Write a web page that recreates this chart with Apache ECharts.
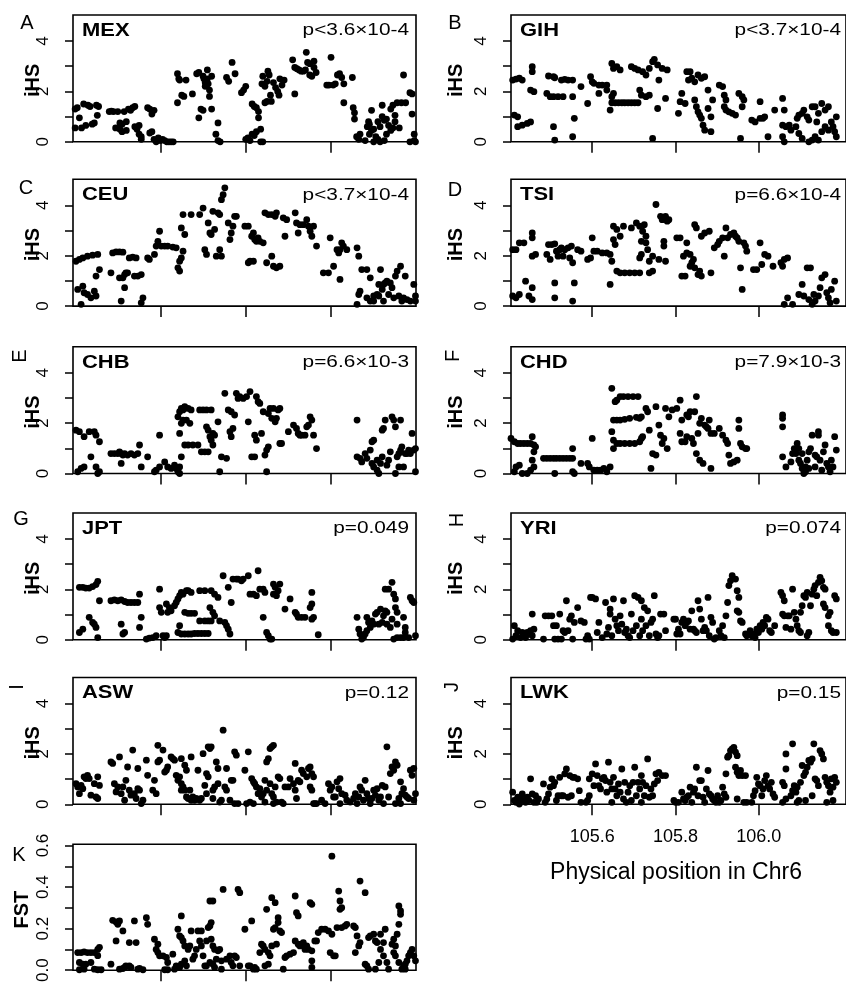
<!DOCTYPE html>
<html><head><meta charset="utf-8">
<script src="https://cdn.jsdelivr.net/npm/echarts@6/dist/echarts.min.js"></script>
<style>html,body{margin:0;padding:0;background:#fff}#c{width:846px;height:985px}</style>
</head><body><div id="c"></div>
<script>
// ---------- tick values ----------
const xTicks = [105.6, 105.8, 106.0];
const iHSTicks = [0, 1, 2, 3, 4];
const iHSLabels = [0, 2, 4];
const fstTicks = [0, 0.1, 0.2, 0.3, 0.4, 0.5, 0.6];
const fstLabels = [0, 0.2, 0.4, 0.6];

// ---------- panel labels ----------
const panelLetters = ['A','B','C','D','E','F','G','H','I','J','K'];
const populations = ['MEX','GIH','CEU','TSI','CHB','CHD','JPT','YRI','ASW','LWK',''];
const pValues = ['p<3.6×10-4','p<3.7×10-4','p<3.7×10-4','p=6.6×10-4','p=6.6×10-3','p=7.9×10-3','p=0.049','p=0.074','p=0.12','p=0.15',''];
const yNames = ['iHS','iHS','iHS','iHS','iHS','iHS','iHS','iHS','iHS','iHS','FST'];
const xTitle = 'Physical position in Chr6';

// ---------- data: [position (Mb), value] ----------
const MEX = [[105.40,1.3],[105.40,0.55],[105.405,1.35],[105.41,0.95],[105.415,0.55],[105.42,1.5],[105.425,0.65],[105.43,1.45],[105.435,1.4],[105.44,0.7],[105.445,0.75],[105.45,1.45],[105.452,1.05],[105.455,1.4],
[105.48,1.2],[105.485,1.22],[105.49,1.2],[105.495,0.55],[105.50,1.2],[105.505,0.5],[105.505,0.75],[105.51,0.4],[105.51,0.7],[105.515,1.2],[105.52,0.8],[105.52,0.45],[105.525,1.3],[105.53,1.25],[105.535,1.35],[105.54,1.4],[105.54,0.6],[105.545,0.5],[105.55,0.65],[105.55,0.3],[105.555,0.1],[105.555,0.2],
[105.57,1.35],[105.575,1.3],[105.58,1.1],[105.585,1.25],[105.575,0.35],[105.58,0.4],[105.585,0.1],[105.59,0.0],[105.595,0.15],[105.6,0.05],[105.605,0.1],[105.61,0.05],[105.615,0.0],[105.62,0.0],[105.625,0.0],[105.63,0.0],
[105.64,2.7],[105.643,2.5],[105.645,2.45],[105.64,1.55],[105.65,1.85],[105.655,1.8],[105.66,2.45],
[105.675,1.9],[105.685,2.7],[105.69,2.75],[105.69,0.95],[105.695,1.3],[105.70,2.6],[105.70,1.25],[105.702,2.5],[105.705,2.2],[105.705,2.35],[105.71,2.85],[105.71,2.5],[105.712,2.3],[105.715,1.8],[105.715,2.05],[105.72,2.6],[105.72,1.3],
[105.73,0.3],[105.735,0.75],[105.735,0.05],[105.74,0.0],
[105.755,2.55],[105.76,2.4],[105.768,3.15],[105.775,2.7],
[105.79,1.95],[105.795,2.05],[105.80,2.2],[105.80,0.1],[105.805,0.15],[105.81,0.05],[105.815,1.5],[105.815,0.3],[105.82,1.4],[105.82,0.25],[105.825,1.35],[105.825,0.4],[105.83,1.2],[105.83,0.95],[105.835,0.5],[105.835,0.0],[105.838,2.3],[105.84,2.6],[105.84,0.0],[105.845,2.2],[105.845,1.55],[105.85,2.4],[105.85,1.6],[105.852,2.8],[105.855,2.65],[105.858,1.85],[105.86,1.6],[105.865,2.35],[105.87,2.15],[105.875,2.0],[105.878,1.85],[105.88,2.5],[105.885,2.25],[105.89,2.45],
[105.91,3.25],[105.915,2.95],[105.915,1.9],[105.92,2.9],[105.925,2.85],[105.93,2.8],[105.935,2.8],[105.94,2.85],[105.942,3.55],[105.945,3.15],[105.95,2.65],[105.95,3.1],[105.955,2.6],[105.96,2.95],[105.96,3.2],[105.965,2.75],
[105.99,2.25],[105.995,2.25],[106.0,3.35],[106.005,2.25],[106.01,2.3],[106.015,2.65],[106.02,2.7],[106.025,2.55],[106.03,2.3],[106.03,1.55],
[106.05,2.55],[106.052,1.35],[106.055,1.15],[106.055,0.9],[106.06,0.2],[106.065,0.1],[106.068,0.3],
[106.08,0.05],[106.085,0.6],[106.088,0.8],[106.09,0.7],[106.09,0.3],[106.095,0.45],[106.095,1.25],[106.10,0.0],[106.10,0.5],[106.105,0.2],[106.11,0.1],[106.11,0.8],[106.115,0.6],[106.115,0.0],[106.12,1.45],[106.12,1.0],[106.125,0.05],[106.125,0.85],[106.13,0.9],[106.13,0.3],[106.135,0.65],[106.14,1.3],[106.14,0.45],[106.145,1.45],[106.145,0.55],[106.15,0.8],[106.15,1.05],[106.155,1.55],[106.16,0.55],[106.165,1.55],[106.17,2.65],[106.175,1.55],[106.185,1.95],[106.19,1.9],[106.19,1.1],[106.195,0.3],[106.195,0.05],[106.198,0.0],[106.185,0.0]];

const GIH = [[105.409,2.45],[105.417,2.49],[105.425,2.52],[105.432,2.45],[105.413,1.06],[105.421,0.99],[105.421,0.6],[105.432,0.66],[105.444,0.73],[105.452,0.79],[105.456,2.78],[105.456,2.98],[105.452,2.05],[105.460,1.99],
[105.491,1.92],[105.495,2.61],[105.507,2.58],[105.510,2.54],[105.499,1.79],[105.507,1.79],[105.518,1.79],[105.530,1.79],[105.507,0.6],[105.510,0.07],[105.526,2.45],[105.534,2.48],[105.542,2.45],[105.553,2.45],[105.553,0.2],[105.557,0.93],[105.553,1.79],
[105.573,2.19],[105.589,1.52],[105.596,2.58],[105.600,2.38],[105.604,2.32],[105.616,2.25],[105.624,2.25],[105.635,2.25],[105.616,1.92],[105.635,2.05],[105.643,1.26],
[105.647,3.11],[105.651,2.91],[105.659,2.98],[105.667,2.85],[105.694,2.98],[105.702,2.91],[105.710,2.85],[105.721,2.78],[105.729,2.65],[105.737,2.91],[105.745,3.18],[105.749,3.27],[105.757,3.05],[105.760,2.45],[105.768,2.91],[105.780,2.85],
[105.647,1.55],[105.655,1.55],[105.663,1.55],[105.671,1.55],[105.678,1.55],[105.686,1.55],[105.694,1.55],[105.702,1.55],[105.710,1.55],
[105.647,1.79],[105.651,1.92],[105.714,2.05],[105.718,1.85],[105.729,1.79],[105.737,1.85],[105.745,0.13],[105.757,1.32],[105.776,1.72],
[105.807,1.13],[105.811,1.59],[105.815,1.92],[105.823,1.52],[105.827,2.78],[105.835,2.78],[105.839,2.52],[105.846,2.38],[105.831,2.45],[105.854,2.65],[105.862,2.52],[105.870,2.58],[105.846,1.66],[105.850,1.39],[105.854,1.19],[105.858,1.06],[105.862,0.93],[105.866,0.66],[105.870,0.46],[105.885,0.4],[105.878,2.05],[105.878,1.32],[105.889,1.66],[105.885,0.99],
[105.905,2.25],[105.913,2.19],[105.917,1.85],[105.921,1.66],[105.917,1.39],[105.921,1.26],[105.928,1.19],[105.936,1.13],[105.944,1.06],[105.952,1.92],[105.960,1.79],[105.964,1.66],[105.960,1.39],[105.956,0.13],[105.983,0.86],[105.991,0.79],[106.003,0.93],[106.014,0.99],[106.010,0.93],[106.003,1.59],[106.022,0.2],[106.038,1.26],
[106.057,1.72],[106.061,1.26],[106.057,0.66],[106.065,0.6],[106.073,0.66],[106.077,0.46],[106.089,0.6],[106.092,0.93],[106.096,1.06],[106.104,1.13],[106.108,1.26],[106.116,0.99],[106.120,0.86],[106.128,1.39],[106.135,1.39],[106.139,0.79],[106.143,1.13],[106.151,1.52],[106.159,1.26],[106.167,1.39],[106.174,0.79],[106.178,0.6],[106.186,0.99],[106.057,0.2],[106.061,0.0],[106.096,0.33],[106.104,0.13],[106.120,0.0],[106.128,0.07],[106.135,0.2],[106.143,0.07],[106.151,0.4],[106.159,0.6],[106.167,0.46],[106.182,0.4],[106.186,0.2]];

const CEU = [[105.402,1.78],[105.410,1.85],[105.418,1.91],[105.429,1.98],[105.441,2.02],[105.453,2.05],[105.406,0.66],[105.418,0.79],[105.414,0.07],[105.421,0.53],[105.429,0.46],[105.437,0.33],[105.449,0.4],[105.445,0.59],[105.449,1.19],[105.457,1.45],
[105.484,1.32],[105.488,2.11],[105.496,2.15],[105.504,2.15],[105.512,2.14],[105.508,0.2],[105.504,1.12],[105.512,1.12],[105.516,1.25],[105.519,1.32],[105.523,1.32],[105.516,0.73],[105.527,1.91],[105.535,1.94],[105.543,1.91],[105.539,1.19],[105.547,1.19],[105.555,1.25],[105.559,0.33],[105.555,0.13],
[105.570,1.91],[105.574,1.85],[105.586,2.05],[105.590,2.38],[105.594,2.57],[105.598,2.97],[105.602,2.38],[105.610,2.38],[105.617,2.38],[105.629,2.34],[105.637,2.31],[105.645,1.78],[105.641,1.52],[105.645,1.39],[105.649,1.91],[105.653,2.18],[105.649,3.1],[105.657,2.84],[105.653,3.63],
[105.672,3.63],[105.692,3.63],[105.700,3.89],[105.704,2.24],[105.708,2.05],[105.712,3.3],[105.716,2.9],[105.719,2.84],[105.723,3.76],[105.727,3.04],[105.731,1.98],[105.735,3.7],[105.739,2.24],[105.739,3.63],[105.743,1.98],[105.743,4.22],[105.751,4.69],[105.747,4.42],[105.759,3.3],[105.763,2.64],[105.766,2.9],[105.770,3.17],[105.774,3.56],[105.778,3.56],
[105.798,3.17],[105.806,3.17],[105.806,1.72],[105.810,1.78],[105.818,1.78],[105.814,2.77],[105.818,2.9],[105.821,2.64],[105.825,2.57],[105.829,2.71],[105.833,2.57],[105.841,2.51],[105.845,3.7],[105.853,3.63],[105.861,3.63],[105.869,3.56],[105.872,3.7],[105.849,1.72],[105.861,1.98],[105.865,1.58],[105.872,1.52],[105.880,1.58],[105.888,3.5],[105.896,3.43],[105.892,2.77],
[105.916,3.7],[105.919,3.3],[105.923,2.9],[105.927,3.23],[105.935,3.23],[105.943,3.43],[105.947,3.17],[105.951,2.97],[105.955,2.77],[105.959,3.17],[105.966,2.38],
[105.982,1.32],[105.994,1.32],[105.998,2.71],[106.006,1.58],[106.021,1.06],[106.014,2.24],[106.018,2.11],[106.021,2.24],[106.025,2.51],[106.029,2.38],[106.037,2.24],[106.061,2.31],[106.065,1.98],[106.061,0.07],
[106.068,0.59],[106.065,0.46],[106.072,1.45],[106.084,1.45],[106.092,1.12],[106.084,0.33],[106.092,0.2],[106.100,0.4],[106.108,0.46],[106.112,0.86],[106.116,1.45],[106.120,0.66],[106.123,0.86],[106.127,0.92],[106.131,0.99],[106.139,0.92],[106.135,0.46],[106.143,0.73],[106.147,0.33],[106.151,1.19],[106.155,1.39],[106.163,1.58],[106.159,0.4],[106.166,0.2],[106.170,0.33],[106.174,1.19],[106.178,0.26],[106.186,0.2],[106.194,0.86],[106.198,0.2],[106.198,0.4],[106.100,0.2],[106.112,0.4],[106.123,0.2]];

const TSI = [[105.409,2.24],[105.417,2.24],[105.425,2.51],[105.436,2.51],[105.409,0.4],[105.417,0.33],[105.425,0.46],[105.440,0.99],[105.448,0.4],[105.456,0.26],[105.456,0.73],[105.456,2.71],[105.456,2.9],[105.456,1.98],[105.464,2.05],
[105.491,2.05],[105.495,2.44],[105.503,2.44],[105.510,2.47],[105.499,1.85],[105.510,0.92],[105.510,0.33],[105.514,2.18],[105.518,1.98],[105.522,2.24],[105.526,2.31],[105.530,1.98],[105.534,2.24],[105.542,2.31],[105.546,1.91],[105.553,1.72],[105.553,0.2],[105.557,0.92],[105.550,2.38],[105.565,2.24],
[105.573,2.18],[105.589,1.85],[105.596,1.91],[105.600,2.71],[105.604,2.18],[105.612,2.18],[105.624,2.11],[105.635,2.11],[105.643,2.05],[105.647,1.78],[105.643,0.86],[105.651,2.64],[105.651,3.17],[105.655,2.44],[105.659,3.04],[105.659,1.39],[105.667,1.32],[105.667,2.77],
[105.675,3.17],[105.678,1.32],[105.690,1.32],[105.702,1.32],[105.714,1.32],[105.694,3.1],[105.706,3.3],[105.714,3.17],[105.718,2.57],[105.721,2.97],[105.718,2.05],[105.714,1.91],[105.725,3.23],[105.729,2.77],[105.729,2.51],[105.733,2.24],[105.737,1.32],[105.737,1.78],[105.745,1.39],[105.745,1.98],[105.753,4.03],[105.760,1.85],[105.764,3.56],[105.768,3.43],[105.772,2.38],[105.776,3.56],[105.780,3.37],[105.776,1.78],[105.784,3.43],[105.772,2.57],
[105.803,2.71],[105.811,2.71],[105.815,1.19],[105.823,1.19],[105.819,1.98],[105.827,2.11],[105.827,2.51],[105.835,2.05],[105.835,1.58],[105.839,1.72],[105.843,1.85],[105.846,3.23],[105.850,3.1],[105.846,1.52],[105.854,1.25],[105.858,1.39],[105.862,1.19],[105.862,2.77],[105.870,2.9],[105.881,2.97],[105.885,1.32],[105.893,2.31],[105.901,2.44],
[105.905,2.57],[105.913,2.71],[105.917,1.98],[105.921,3.1],[105.925,2.71],[105.932,2.84],[105.940,2.9],[105.944,2.77],[105.948,2.71],[105.952,2.57],[105.956,1.52],[105.960,0.66],[105.964,2.51],[105.968,2.38],[105.971,2.18],
[105.987,1.45],[105.995,1.45],[106.003,2.51],[106.007,1.65],[106.014,2.05],[106.022,1.98],[106.034,1.58],[106.053,1.72],[106.057,1.58],[106.061,1.85],[106.069,1.91],
[106.061,0.07],[106.069,0.33],[106.081,0.07],[106.096,0.46],[106.104,0.86],[106.108,0.4],[106.116,1.52],[106.124,1.52],[106.120,0.26],[106.128,0.07],[106.132,0.46],[106.135,0.2],[106.143,0.4],[106.147,0.73],[106.151,1.12],[106.159,1.25],[106.163,0.53],[106.167,0.33],[106.171,0.13],[106.174,0.66],[106.182,0.99],[106.186,0.2]];

const CHB = [[105.402,1.72],[105.410,1.66],[105.421,1.46],[105.433,1.66],[105.445,1.66],[105.449,1.52],[105.457,1.26],[105.449,0.26],[105.437,0.66],[105.406,0.07],[105.414,0.2],[105.421,0.26],[105.453,0.0],[105.457,0.07],
[105.484,0.79],[105.492,0.79],[105.500,0.79],[105.504,0.86],[105.508,0.79],[105.512,0.73],[105.516,0.79],[105.523,0.73],[105.531,0.79],[105.539,0.73],[105.547,0.79],[105.551,1.13],[105.508,0.4],[105.555,0.26],[105.570,0.66],
[105.586,0.07],[105.590,0.13],[105.598,0.26],[105.598,1.52],[105.610,0.46],[105.617,0.26],[105.625,0.2],[105.633,0.33],[105.637,0.2],[105.641,0.07],[105.645,0.26],[105.649,0.66],[105.645,0.0],
[105.641,2.25],[105.645,2.45],[105.649,2.58],[105.653,2.52],[105.657,2.65],[105.665,2.58],[105.672,2.52],[105.645,1.59],[105.649,1.99],[105.653,2.12],[105.661,2.12],[105.669,1.99],[105.657,1.13],[105.665,1.13],[105.676,1.13],[105.688,1.13],[105.692,2.52],[105.700,2.52],[105.708,2.52],[105.719,2.52],[105.696,0.86],[105.704,0.86],[105.712,0.86],[105.708,1.85],[105.712,1.72],[105.716,1.46],[105.719,1.32],[105.723,1.59],[105.727,1.52],[105.723,1.13],
[105.735,2.05],[105.739,0.07],[105.743,0.66],[105.751,3.18],[105.755,0.6],[105.759,2.52],[105.763,1.66],[105.766,1.46],[105.766,2.45],[105.770,1.79],[105.774,2.32],[105.778,3.18],[105.782,2.98],[105.786,3.05],[105.794,2.98],[105.802,3.05],[105.806,2.05],[105.810,3.25],[105.814,0.66],[105.821,0.66],
[105.821,1.52],[105.825,3.05],[105.825,1.32],[105.829,2.85],[105.833,2.78],[105.837,1.59],[105.841,2.45],[105.845,0.73],[105.849,0.07],[105.849,0.93],[105.853,1.06],[105.853,2.38],[105.857,2.58],[105.861,2.19],[105.865,2.58],[105.869,2.05],[105.872,2.19],[105.876,2.52],[105.880,2.58],[105.884,1.19],[105.880,1.19],
[105.900,1.66],[105.912,1.92],[105.919,1.79],[105.923,1.59],[105.927,1.52],[105.931,1.52],[105.939,1.52],[105.943,1.85],[105.947,1.92],[105.951,2.25],[105.955,2.12],[105.959,1.52],[105.966,0.99],
[106.061,2.12],[106.061,0.66],[106.068,0.6],[106.072,0.46],[106.080,0.79],[106.084,0.6],[106.092,0.93],[106.096,1.26],[106.100,1.32],[106.096,0.4],[106.100,0.26],[106.108,0.13],[106.108,0.53],[106.112,0.0],[106.116,0.4],[106.120,0.66],[106.120,1.72],[106.123,1.79],[106.127,2.12],[106.131,0.33],[106.135,0.53],[106.139,0.86],[106.143,2.25],[106.147,2.12],[106.151,1.85],[106.155,0.66],[106.151,0.0],[106.159,0.79],[106.159,0.26],[106.163,2.12],[106.163,0.93],[106.166,1.06],[106.170,0.26],[106.174,0.79],[106.178,0.79],[106.182,0.93],[106.186,0.79],[106.190,1.59],[106.194,0.93],[106.198,0.07],[106.198,0.99]];

const CHD = [[105.405,1.39],[105.413,1.26],[105.421,1.19],[105.428,1.19],[105.436,1.19],[105.444,1.19],[105.452,1.19],[105.460,1.13],[105.456,1.46],[105.464,1.06],[105.460,0.86],[105.456,0.53],[105.460,0.26],[105.417,0.26],[105.425,0.33],[105.413,0.07],[105.432,0.0],[105.444,0.0],[105.452,0.13],
[105.483,0.6],[105.491,0.6],[105.499,0.6],[105.507,0.6],[105.514,0.6],[105.522,0.6],[105.530,0.6],[105.538,0.6],[105.546,0.6],[105.553,0.6],[105.510,0.0],[105.553,0.99],[105.557,0.0],[105.553,0.07],
[105.573,0.4],[105.589,0.4],[105.593,0.26],[105.600,1.39],[105.604,0.13],[105.612,0.13],[105.620,0.13],[105.628,0.2],[105.635,0.07],[105.643,0.26],[105.647,1.66],[105.647,3.38],[105.651,1.32],[105.651,0.99],
[105.655,2.85],[105.659,2.91],[105.667,3.05],[105.675,3.05],[105.686,3.05],[105.698,3.05],[105.710,3.05],[105.651,2.12],[105.659,2.12],[105.667,2.12],[105.678,2.15],[105.690,2.19],[105.706,2.23],[105.714,2.19],[105.718,2.25],[105.659,1.19],[105.667,1.19],[105.678,1.19],[105.690,1.19],[105.702,1.19],[105.714,1.26],[105.718,1.39],[105.721,1.46],
[105.729,2.58],[105.733,2.45],[105.737,1.72],[105.741,0.2],[105.745,0.79],[105.753,2.65],[105.753,0.73],[105.760,1.92],[105.764,1.52],[105.768,1.19],[105.772,1.39],[105.776,2.58],[105.780,0.99],[105.784,2.25],[105.792,2.52],[105.803,2.58],[105.811,2.91],[105.815,2.12],
[105.811,1.59],[105.815,1.26],[105.823,1.26],[105.827,1.46],[105.827,2.32],[105.831,2.25],[105.835,2.45],[105.839,1.39],[105.843,1.19],[105.846,2.45],[105.850,3.05],[105.850,0.79],[105.854,1.59],[105.858,1.99],[105.858,0.53],[105.862,2.19],[105.866,0.4],[105.870,1.92],[105.874,1.85],[105.878,1.79],[105.881,2.12],[105.885,0.2],[105.885,1.59],[105.893,1.59],
[105.905,1.79],[105.913,1.52],[105.921,1.32],[105.925,1.19],[105.928,0.73],[105.932,0.4],[105.940,0.46],[105.948,0.53],[105.952,2.12],[105.952,1.79],[105.956,1.19],[105.960,1.06],[105.968,0.99],[105.971,0.99],
[106.057,2.32],[106.057,2.19],[106.057,1.85],[106.057,0.66],[106.065,0.26],[106.077,0.46],[106.081,0.79],[106.085,0.99],[106.089,0.79],[106.092,1.19],[106.096,0.99],[106.096,0.53],[106.100,0.4],[106.104,0.2],[106.104,0.79],[106.108,0.0],[106.112,0.26],[106.116,0.53],[106.120,0.86],[106.124,0.99],[106.128,1.52],[106.135,0.73],[106.139,0.66],[106.143,1.66],[106.143,1.52],[106.147,0.53],[106.151,0.13],[106.155,0.86],[106.159,1.13],[106.163,0.4],[106.167,0.26],[106.171,0.07],[106.174,0.53],[106.178,0.26],[106.182,1.46],[106.186,0.93],[106.135,0.26],[106.120,0.2],[106.112,0.07]];

const JPT = [[105.410,2.08],[105.418,2.08],[105.425,2.05],[105.433,2.05],[105.441,2.11],[105.449,2.19],[105.453,2.32],[105.457,1.55],[105.410,0.29],[105.418,0.42],[105.433,0.89],[105.441,0.69],[105.449,0.49],[105.453,0.09],[105.445,0.62],
[105.484,1.55],[105.492,1.58],[105.500,1.55],[105.508,1.58],[105.516,1.52],[105.523,1.48],[105.531,1.48],[105.539,1.48],[105.547,1.48],[105.551,1.81],[105.508,0.62],[105.512,0.23],[105.516,0.29],[105.551,0.49],[105.555,0.89],
[105.567,0.03],[105.574,0.07],[105.582,0.09],[105.590,0.16],[105.598,2.01],[105.598,1.28],[105.602,1.09],[105.606,0.16],[105.614,0.16],[105.610,0.09],[105.614,1.42],[105.617,1.09],[105.621,1.28],[105.625,1.15],[105.633,1.35],[105.637,1.48],[105.641,1.62],[105.645,1.75],[105.649,1.88],[105.653,1.81],[105.661,1.95],[105.665,1.95],[105.672,1.88],
[105.641,0.29],[105.645,0.56],[105.649,0.23],[105.657,0.23],[105.665,0.23],[105.672,0.23],[105.680,0.25],[105.688,0.25],[105.696,0.25],[105.704,0.25],[105.712,0.25],[105.657,1.09],[105.665,1.05],[105.672,1.05],[105.680,1.05],[105.692,0.75],[105.704,0.75],[105.712,0.75],[105.719,0.75],[105.716,1.28],[105.723,1.09],[105.727,0.95],[105.692,1.95],[105.704,1.95],[105.719,1.95],[105.727,1.81],[105.735,1.68],
[105.739,0.75],[105.747,2.54],[105.751,0.69],[105.755,0.56],[105.759,0.42],[105.763,0.23],[105.759,2.08],[105.766,1.48],[105.770,2.41],[105.778,2.41],[105.782,2.41],[105.790,2.34],[105.794,2.41],[105.806,2.54],[105.810,1.81],[105.818,1.81],[105.825,1.75],
[105.829,2.74],[105.833,2.01],[105.841,2.01],[105.841,0.89],[105.845,1.88],[105.849,0.29],[105.853,0.16],[105.857,0.03],[105.861,0.03],[105.865,2.21],[105.869,2.08],[105.872,1.75],[105.876,1.95],[105.880,2.21],[105.865,1.81],
[105.892,1.22],[105.904,1.62],[105.916,1.09],[105.919,1.02],[105.923,0.89],[105.931,0.89],[105.939,0.89],[105.955,1.88],[105.955,1.42],[105.951,1.28],[105.959,0.89],[105.955,0.82],[105.970,0.2],
[106.061,0.89],[106.065,0.42],[106.068,0.23],[106.072,0.03],[106.076,0.09],[106.080,0.23],[106.084,0.36],[106.084,0.89],[106.088,0.69],[106.092,0.49],[106.096,0.75],[106.100,0.62],[106.104,1.02],[106.108,1.09],[106.112,0.62],[106.116,1.22],[106.120,0.69],[106.123,0.95],[106.127,1.15],[106.131,1.09],[106.127,2.01],[106.135,2.01],[106.143,2.28],[106.147,1.81],[106.151,1.62],[106.151,1.28],[106.155,1.09],[106.143,0.82],[106.147,0.03],[106.155,0.09],[106.163,0.09],[106.170,0.09],[106.174,0.49],[106.170,0.89],[106.174,0.29],[106.182,0.09],[106.186,1.68],[106.190,1.55],[106.194,1.48],[106.198,0.16],[106.131,0.62],[106.139,0.49],[106.155,0.62]];

const YRI = [[105.409,0.03],[105.413,0.56],[105.417,0.16],[105.421,0.36],[105.428,0.09],[105.432,0.29],[105.440,0.09],[105.444,0.29],[105.448,0.23],[105.452,0.36],[105.456,1.02],[105.456,0.16],[105.460,0.42],[105.436,0.23],
[105.483,0.03],[105.487,0.95],[105.495,0.95],[105.503,0.95],[105.510,0.03],[105.507,0.56],[105.514,0.56],[105.518,0.03],[105.522,1.02],[105.526,0.03],[105.530,0.36],[105.534,0.29],[105.538,1.55],[105.542,0.36],[105.546,0.82],[105.550,0.95],[105.553,0.03],[105.557,0.69],
[105.565,1.28],[105.573,0.75],[105.581,0.69],[105.585,0.03],[105.589,0.16],[105.593,0.03],[105.596,1.68],[105.600,1.68],[105.608,1.62],[105.612,0.29],[105.616,0.69],[105.624,0.09],[105.632,1.48],[105.635,0.23],[105.639,0.49],[105.643,1.22],
[105.643,1.02],[105.647,0.16],[105.651,1.62],[105.655,0.82],[105.659,0.56],[105.663,0.36],[105.667,0.95],[105.671,0.62],[105.675,1.55],[105.678,0.29],[105.682,0.42],[105.686,0.16],[105.690,0.09],[105.694,1.02],[105.698,0.36],[105.702,1.75],[105.706,0.56],[105.710,1.68],[105.714,0.16],[105.718,0.82],[105.718,1.55],[105.721,0.36],[105.725,1.28],[105.729,0.56],
[105.733,1.15],[105.737,0.16],[105.741,0.69],[105.745,0.82],[105.749,1.75],[105.753,0.23],[105.757,0.09],[105.760,0.16],[105.764,1.02],[105.772,1.02],[105.776,0.36],[105.796,0.82],[105.800,0.82],[105.803,0.23],[105.807,0.42],
[105.811,0.23],[105.815,0.69],[105.819,0.82],[105.823,0.56],[105.827,0.69],[105.831,0.75],[105.835,0.42],[105.839,1.15],[105.843,0.42],[105.846,0.36],[105.850,0.29],[105.854,1.55],[105.858,1.22],[105.862,0.82],[105.866,0.36],[105.870,0.49],[105.874,0.36],[105.878,1.68],[105.881,0.16],[105.885,0.89],[105.889,0.69],[105.893,0.03],[105.897,0.09],
[105.905,0.36],[105.909,0.16],[105.913,0.56],[105.917,0.09],[105.921,0.95],[105.925,1.48],[105.928,2.15],[105.932,2.34],[105.936,2.54],[105.944,2.41],[105.948,1.95],[105.952,1.68],[105.948,1.15],[105.952,1.09],[105.956,0.75],[105.960,0.69],[105.968,0.23],[105.971,0.16],[105.979,0.36],
[105.983,0.16],[105.987,0.23],[105.991,0.09],[105.995,0.42],[105.999,0.29],[106.003,0.56],[106.007,0.42],[106.010,0.69],[106.014,0.56],[106.018,0.89],[106.022,0.82],[106.026,0.36],[106.030,0.29],[106.038,0.56],[106.053,1.88],[106.057,1.75],[106.061,1.55],[106.057,1.02],[106.061,0.95],[106.065,0.49],
[106.069,0.95],[106.073,0.95],[106.077,0.42],[106.081,2.01],[106.085,1.09],[106.089,0.82],[106.092,0.56],[106.096,0.36],[106.100,0.29],[106.100,1.09],[106.104,1.35],[106.108,1.75],[106.112,1.68],[106.116,1.88],[106.116,0.16],[106.120,0.29],[106.124,1.35],[106.128,1.81],[106.132,2.01],[106.135,2.15],[106.139,1.75],[106.143,2.28],[106.147,2.48],[106.151,2.34],[106.155,2.08],[106.159,2.01],[106.155,1.42],[106.159,1.28],[106.167,0.95],[106.171,1.09],[106.167,0.56],[106.174,0.36],[106.178,0.29],[106.182,1.75],[106.186,1.62],[106.186,0.29]];

const ASW = [[105.402,0.82],[105.406,0.69],[105.414,0.75],[105.410,0.42],[105.418,0.62],[105.421,1.09],[105.429,1.15],[105.433,1.02],[105.437,0.36],[105.445,0.82],[105.449,0.29],[105.453,0.23],[105.457,0.75],[105.453,1.09],[105.425,1.02],
[105.484,1.68],[105.488,1.62],[105.492,0.82],[105.496,0.49],[105.500,0.69],[105.504,1.88],[105.508,0.42],[105.512,0.69],[105.516,0.16],[105.519,0.95],[105.523,1.48],[105.527,0.56],[105.531,0.36],[105.535,2.15],[105.539,0.42],[105.543,0.23],[105.547,0.62],[105.547,1.42],[105.551,0.56],[105.555,0.03],[105.559,0.16],
[105.567,1.75],[105.570,1.15],[105.582,0.56],[105.586,0.95],[105.590,0.42],[105.594,2.34],[105.594,1.68],[105.598,1.75],[105.606,2.15],[105.610,1.28],[105.614,1.35],[105.617,1.48],[105.625,1.88],[105.629,1.81],[105.633,1.75],[105.637,1.15],[105.641,0.95],[105.645,1.09],[105.649,0.82],[105.649,0.56],[105.653,0.69],[105.649,1.81],[105.657,1.55],[105.661,1.35],[105.657,0.56],
[105.661,0.29],[105.665,0.23],[105.669,0.56],[105.672,1.88],[105.672,0.16],[105.676,0.29],[105.680,0.16],[105.684,0.23],[105.688,1.35],[105.692,0.16],[105.696,0.23],[105.700,2.01],[105.704,0.75],[105.708,1.22],[105.708,0.42],[105.712,1.09],[105.712,2.28],[105.716,2.21],[105.719,2.28],[105.723,0.56],[105.723,0.23],[105.727,0.69],[105.731,1.68],[105.735,0.82],[105.735,1.42],[105.739,0.09],[105.743,0.16],[105.747,2.94],[105.751,0.69],[105.755,0.56],
[105.755,1.42],[105.763,0.16],[105.766,0.95],[105.770,0.95],[105.774,2.08],[105.778,1.95],[105.774,0.03],[105.782,0.03],[105.798,1.35],[105.802,0.03],[105.806,2.08],[105.810,0.09],[105.814,1.02],[105.818,0.03],[105.818,0.89],[105.821,0.82],[105.825,0.69],[105.829,0.42],[105.833,0.62],[105.837,0.29],[105.841,0.42],[105.845,0.95],[105.845,0.09],[105.849,1.68],[105.849,0.56],
[105.853,1.81],[105.857,2.21],[105.861,2.28],[105.865,2.34],[105.857,0.82],[105.861,0.42],[105.865,0.29],[105.869,0.69],[105.865,0.03],[105.872,0.09],[105.876,1.09],[105.880,1.02],[105.884,0.09],[105.888,0.03],[105.892,0.69],[105.900,0.69],[105.904,1.02],[105.912,0.82],[105.916,1.62],[105.916,0.56],[105.919,0.23],[105.923,0.95],[105.927,0.89],[105.931,1.35],
[105.935,1.22],[105.943,1.09],[105.947,1.42],[105.951,1.48],[105.955,1.22],[105.959,1.09],[105.951,0.69],[105.955,0.56],[105.959,0.03],[105.962,0.03],[105.966,0.03],[105.978,0.16],[105.986,0.03],[105.994,0.82],[105.998,0.56],[106.002,0.69],[106.006,0.29],[106.010,0.29],[106.014,0.89],[106.018,0.62],[106.021,1.02],[106.021,0.03],[106.025,0.42],[106.033,0.36],[106.037,0.16],
[106.045,0.09],[106.053,0.23],[106.057,0.42],[106.061,0.03],[106.065,0.29],[106.068,0.69],[106.072,0.56],[106.076,0.16],[106.080,0.95],[106.084,0.42],[106.088,0.23],[106.092,0.03],[106.096,0.23],[106.100,0.56],[106.104,0.36],[106.108,0.62],[106.112,0.16],[106.116,0.29],[106.120,0.75],[106.123,0.03],[106.127,0.69],[106.131,2.28],[106.135,0.29],[106.139,1.22],[106.143,1.48],[106.147,1.35],[106.151,1.68],[106.155,1.55],[106.159,0.23],[106.163,0.89],[106.166,0.42],[106.170,0.62],[106.174,0.36],[106.178,0.29],[106.182,0.23],[106.186,1.35],[106.190,1.15],[106.194,1.42],[106.198,0.42],[106.194,0.16],[106.163,0.03],[106.151,0.03]];

const LWK = [[105.409,0.48],[105.413,0.15],[105.417,0.08],[105.421,0.28],[105.425,0.01],[105.428,0.21],[105.432,0.41],[105.436,0.15],[105.440,0.08],[105.444,0.28],[105.448,0.15],[105.452,1.01],[105.456,0.41],[105.460,0.08],[105.464,0.34],[105.467,0.08],[105.471,0.21],
[105.483,0.81],[105.487,0.08],[105.491,0.21],[105.495,0.41],[105.499,0.68],[105.503,1.01],[105.507,0.74],[105.510,0.87],[105.514,0.15],[105.518,0.34],[105.522,1.07],[105.526,0.34],[105.530,0.34],[105.534,1.21],[105.538,1.4],[105.542,0.28],[105.546,1.14],[105.550,0.34],[105.553,1.07],[105.557,1.07],[105.565,1.01],[105.569,0.54],[105.573,0.08],[105.585,0.08],[105.589,0.15],[105.593,0.34],
[105.593,1.01],[105.600,1.21],[105.604,0.74],[105.608,1.6],[105.612,1.14],[105.616,0.74],[105.620,0.61],[105.624,1.01],[105.628,1.07],[105.632,0.94],[105.635,0.48],[105.639,1.67],[105.643,0.87],[105.647,0.61],[105.647,0.08],[105.651,1.07],[105.655,0.61],[105.659,0.34],[105.663,0.81],[105.667,0.48],[105.671,1.4],[105.675,0.21],[105.678,0.87],[105.682,0.08],
[105.686,0.48],[105.690,0.74],[105.694,0.15],[105.698,0.87],[105.702,1.47],[105.706,0.34],[105.710,0.87],[105.714,0.61],[105.718,1.14],[105.718,0.08],[105.721,0.87],[105.725,0.34],[105.729,0.74],[105.733,1.8],[105.737,0.28],[105.741,0.61],[105.745,0.34],[105.749,0.81],[105.753,1.21],[105.757,0.94],[105.760,1.27],[105.768,1.14],[105.776,1.14],
[105.796,0.15],[105.800,0.08],[105.807,0.08],[105.815,0.48],[105.819,0.21],[105.823,0.15],[105.827,0.28],[105.831,0.34],[105.835,0.68],[105.839,0.08],[105.843,0.48],[105.846,0.61],[105.850,1.47],[105.854,0.34],[105.858,0.94],[105.862,0.94],[105.866,0.28],[105.870,0.08],[105.874,0.61],[105.878,1.34],[105.881,0.41],[105.885,0.34],[105.889,0.21],[105.893,0.15],[105.897,0.08],[105.901,0.34],
[105.905,0.08],[105.909,0.15],[105.913,0.68],[105.917,0.41],[105.921,0.28],[105.921,1.21],[105.925,1.87],[105.928,1.93],[105.932,2.13],[105.936,2.2],[105.940,2.26],[105.944,2.07],[105.948,1.93],[105.944,1.47],[105.948,1.27],[105.952,1.14],[105.956,1.34],[105.960,1.14],[105.968,1.14],[105.948,0.21],[105.964,0.08],[105.971,0.08],
[105.983,0.08],[105.987,0.34],[105.991,0.54],[105.995,1.07],[105.999,0.81],[106.003,0.74],[106.007,0.34],[106.010,0.61],[106.014,0.94],[106.018,1.14],[106.022,0.74],[106.026,0.61],[106.030,0.87],[106.034,0.41],[106.038,0.28],[106.057,0.87],[106.061,0.74],[106.057,0.08],[106.065,0.21],[106.065,1.4],[106.065,2.0],[106.081,2.4],
[106.077,0.34],[106.081,0.54],[106.085,0.74],[106.089,0.48],[106.092,0.68],[106.096,0.15],[106.100,0.87],[106.104,1.54],[106.108,1.14],[106.112,1.27],[106.116,1.47],[106.120,1.74],[106.124,1.67],[106.128,1.8],[106.132,2.4],[106.135,1.01],[106.139,0.94],[106.143,0.74],[106.147,2.13],[106.151,2.0],[106.155,1.8],[106.159,1.07],[106.163,0.87],[106.167,0.74],[106.171,0.48],[106.174,1.01],[106.178,0.68],[106.182,1.07],[106.186,0.87],[106.163,0.08],[106.178,0.15],[106.128,0.34],[106.112,0.15],[106.092,0.08]];

const FST = [[105.406,0.085],[105.414,0.085],[105.421,0.088],[105.429,0.085],[105.437,0.085],[105.445,0.085],[105.453,0.10],[105.457,0.11],[105.453,0.07],[105.410,0.037],[105.418,0.029],[105.425,0.029],[105.437,0.037],[105.445,0.005],[105.453,0.002],[105.461,0.002],[105.410,0.002],[105.421,0.005],
[105.484,0.029],[105.488,0.24],[105.496,0.232],[105.500,0.221],[105.504,0.237],[105.496,0.141],[105.512,0.189],[105.504,0.005],[105.512,0.008],[105.516,0.013],[105.519,0.021],[105.523,0.018],[105.527,0.021],[105.531,0.013],[105.527,0.133],[105.539,0.237],[105.543,0.133],[105.547,0.005],[105.551,0.008],[105.559,0.002],[105.567,0.253],[105.570,0.221],
[105.586,0.149],[105.590,0.10],[105.594,0.125],[105.594,0.085],[105.598,0.069],[105.606,0.069],[105.614,0.061],[105.617,0.037],[105.610,0.002],[105.617,0.002],[105.629,0.077],[105.633,0.005],[105.637,0.021],[105.641,0.197],[105.645,0.165],[105.649,0.261],[105.649,0.157],[105.653,0.141],[105.657,0.117],[105.657,0.045],[105.649,0.029],[105.645,0.013],[105.661,0.021],
[105.665,0.10],[105.669,0.117],[105.672,0.189],[105.676,0.053],[105.680,0.069],[105.684,0.10],[105.688,0.189],[105.692,0.141],[105.696,0.117],[105.696,0.189],[105.700,0.069],[105.704,0.021],[105.708,0.141],[105.712,0.205],[105.716,0.213],[105.719,0.229],[105.719,0.149],[105.723,0.117],[105.727,0.10],[105.716,0.037],[105.708,0.021],[105.723,0.029],[105.727,0.013],[105.716,0.333],[105.723,0.333],[105.731,0.053],[105.735,0.093],[105.739,0.10],[105.743,0.005],[105.747,0.389],[105.743,0.045],
[105.755,0.053],[105.763,0.069],[105.766,0.037],[105.770,0.021],[105.774,0.069],[105.778,0.061],[105.782,0.389],[105.786,0.373],[105.786,0.021],[105.798,0.197],[105.806,0.021],[105.810,0.021],[105.814,0.237],[105.818,0.005],[105.821,0.013],[105.825,0.005],[105.833,0.085],[105.837,0.125],[105.841,0.117],[105.845,0.10],[105.845,0.021],[105.849,0.293],
[105.853,0.085],[105.853,0.029],[105.857,0.069],[105.861,0.117],[105.861,0.349],[105.865,0.197],[105.869,0.205],[105.869,0.325],[105.872,0.125],[105.876,0.253],[105.876,0.229],[105.880,0.189],[105.884,0.181],[105.888,0.005],[105.892,0.061],[105.896,0.069],[105.904,0.077],[105.912,0.085],[105.916,0.141],[105.916,0.357],[105.919,0.277],[105.923,0.261],[105.923,0.125],[105.927,0.117],[105.931,0.125],
[105.935,0.133],[105.939,0.10],[105.943,0.117],[105.947,0.10],[105.951,0.325],[105.955,0.317],[105.955,0.093],[105.955,0.045],[105.955,0.013],[105.962,0.141],[105.966,0.141],[105.970,0.181],[105.978,0.197],[105.986,0.197],[105.994,0.189],[105.998,0.085],[106.002,0.173],[106.006,0.069],[106.002,0.549],
[106.010,0.069],[106.014,0.205],[106.018,0.381],[106.021,0.333],[106.021,0.293],[106.025,0.301],[106.025,0.205],[106.033,0.213],[106.037,0.221],[106.053,0.213],[106.057,0.205],[106.061,0.165],[106.057,0.085],[106.065,0.117],[106.068,0.133],[106.068,0.429],[106.080,0.373],[106.080,0.029],[106.084,0.021],[106.088,0.005],[106.088,0.157],
[106.092,0.165],[106.100,0.173],[106.104,0.005],[106.104,0.141],[106.108,0.133],[106.112,0.037],[106.116,0.10],[106.116,0.173],[106.123,0.133],[106.123,0.069],[106.127,0.197],[106.131,0.037],[106.135,0.005],[106.143,0.125],[106.147,0.149],[106.147,0.085],[106.151,0.117],[106.155,0.173],[106.159,0.221],[106.159,0.309],[106.163,0.285],[106.163,0.269],[106.151,0.069],[106.159,0.037],[106.166,0.005],[106.170,0.021],[106.174,0.029],[106.178,0.045],[106.182,0.069],[106.186,0.085],[106.190,0.10],[106.194,0.069],[106.198,0.045],[106.174,0.005]];

const panelData = [MEX, GIH, CEU, TSI, CHB, CHD, JPT, YRI, ASW, LWK, FST];

// ---------- layout ----------
const rowTops = [15, 179.3, 346.7, 513, 677.5, 844.3];
const plotH = 126.8;
const plotW = 343;
const colLeft = [73, 511];
const colXMin = [105.395, 105.405];
const letterPos = [[27,23],[455,23],[26,188],[455,190],[20,356],[453,356],[21,519],[457,520],[17,687],[452,687],[19,855]];
const rotatedLetters = {E:1,F:1,H:1,I:1,J:1};
const FONT = '"Liberation Sans", Arial, Helvetica, sans-serif';

const grids = [], xAxes = [], yAxes = [], series = [], graphics = [];
for (let i = 0; i < panelData.length; i++) {
  const col = i % 2, row = Math.floor(i / 2);
  const left = colLeft[col], top = rowTops[row];
  const isFst = i === 10;
  grids.push({ left: left, top: top, width: plotW, height: plotH, show: true, borderColor: '#000', borderWidth: 1.6, backgroundColor: 'transparent', containLabel: false });
  const showXLabel = i === 9;
  xAxes.push({
    gridIndex: i, type: 'value', min: colXMin[col], max: colXMin[col] + plotW / 426.5,
    offset: 2,
    axisLine: { show: false },
    axisTick: { show: true, customValues: xTicks, length: 11, lineStyle: { color: '#000', width: 1.5 } },
    axisLabel: { show: showXLabel, customValues: xTicks, formatter: v => v.toFixed(1), color: '#000', fontSize: 18, fontFamily: FONT, margin: 22 },
    splitLine: { show: false }
  });
  yAxes.push({
    gridIndex: i, type: 'value', min: 0, max: isFst ? 0.606 : 5.03,
    axisLine: { show: false },
    axisTick: { show: true, customValues: isFst ? fstTicks : iHSTicks, length: 8, lineStyle: { color: '#000', width: 1.5 } },
    axisLabel: { show: true, customValues: isFst ? fstLabels : iHSLabels, rotate: 90, margin: 21, color: '#000', fontSize: 17, fontFamily: FONT,
      formatter: v => isFst ? v.toFixed(1) : String(v) },
    splitLine: { show: false }
  });
  series.push({
    type: 'scatter', xAxisIndex: i, yAxisIndex: i, data: panelData[i],
    symbol: 'circle', symbolSize: 6.8, itemStyle: { color: '#000', opacity: 1 }, clip: false, silent: true, animation: false
  });
  const lp = letterPos[i];
  graphics.push({ type: 'text', x: lp[0], y: lp[1], rotation: rotatedLetters[panelLetters[i]] ? Math.PI / 2 : 0, silent: true,
    style: { text: panelLetters[i], x: 0, y: 0, fill: '#000', font: '20px ' + FONT, align: 'center', verticalAlign: 'middle', textAlign: 'center', textVerticalAlign: 'middle' } });
  const nameX = isFst ? 22 : (col === 0 ? 33 : 456);
  graphics.push({ type: 'text', x: nameX, y: top + plotH / 2 + 2, rotation: Math.PI / 2, silent: true,
    style: { text: yNames[i], x: 0, y: 0, fill: '#000', font: 'bold 20px ' + FONT, align: 'center', verticalAlign: 'middle', textAlign: 'center', textVerticalAlign: 'middle' } });
  if (populations[i]) {
    graphics.push({ type: 'text', x: left + 9, y: top + 16, scaleX: 1.22, silent: true,
      style: { text: populations[i], x: 0, y: 0, fill: '#000', font: 'bold 18px ' + FONT, align: 'left', verticalAlign: 'middle', textAlign: 'left', textVerticalAlign: 'middle' } });
    graphics.push({ type: 'text', x: col === 0 ? 409 : 841, y: top + 16, scaleX: 1.3, silent: true,
      style: { text: pValues[i], x: 0, y: 0, fill: '#000', font: '16px ' + FONT, align: 'right', verticalAlign: 'middle', textAlign: 'right', textVerticalAlign: 'middle' } });
  }
}
graphics.push({ type: 'text', x: 676, y: 873, silent: true,
  style: { text: xTitle, x: 0, y: 0, fill: '#000', font: '23px ' + FONT, align: 'center', verticalAlign: 'middle', textAlign: 'center', textVerticalAlign: 'middle' } });

const chart = echarts.init(document.getElementById('c'), null, { renderer: 'canvas' });
chart.setOption({
  animation: false,
  backgroundColor: '#fff',
  grid: grids, xAxis: xAxes, yAxis: yAxes, series: series,
  graphic: { elements: graphics }
});
</script></body></html>
